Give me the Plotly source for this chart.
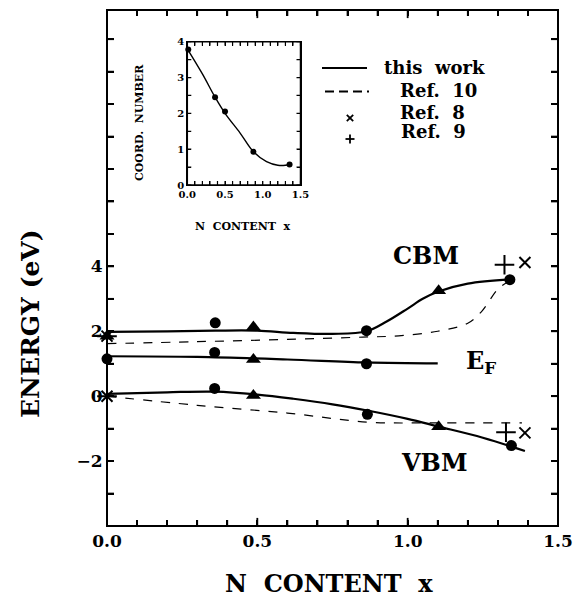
import plotly.graph_objects as go

# ---------------- data ----------------
# smooth curves, "this work"
cbm_line_x = [0.0, 0.2, 0.36, 0.5, 0.62, 0.75, 0.863, 0.93, 1.0, 1.05, 1.1, 1.2, 1.34]
cbm_line_y = [1.98, 2.0, 2.02, 2.02, 1.95, 1.92, 2.0, 2.3, 2.7, 3.0, 3.22, 3.47, 3.6]
ef_line_x = [0.0, 0.3, 0.6, 0.863, 1.1]
ef_line_y = [1.23, 1.21, 1.13, 1.04, 1.01]
vbm_line_x = [0.0, 0.2, 0.36, 0.5, 0.62, 0.75, 0.87, 1.0, 1.1, 1.25, 1.39]
vbm_line_y = [0.07, 0.12, 0.14, 0.05, -0.08, -0.25, -0.45, -0.7, -0.93, -1.28, -1.69]
# Ref. 10 (dashed)
cbm_ref10_x = [0.0, 0.3, 0.6, 0.85, 0.97, 1.1, 1.2, 1.245, 1.3, 1.33]
cbm_ref10_y = [1.62, 1.68, 1.75, 1.82, 1.86, 2.0, 2.25, 2.6, 3.3, 3.5]
vbm_ref10_x = [0.0, 0.3, 0.6, 0.87, 1.1, 1.38]
vbm_ref10_y = [0.0, -0.28, -0.52, -0.80, -0.82, -0.82]
# measured points
circ_x = [0.36, 0.863, 1.34, 0.0, 0.358, 0.863, 0.358, 0.866, 1.345]
circ_y = [2.26, 2.02, 3.59, 1.15, 1.35, 1.0, 0.24, -0.56, -1.52]
tri_x = [0.0, 0.487, 1.103, 0.487, 0.487, 1.103]
tri_y = [1.85, 2.13, 3.25, 1.13, 0.02, -0.94]
ref8_x = [0.0, 1.39, 0.0, 1.39]
ref8_y = [1.85, 4.12, 0.0, -1.13]
ref9_x = [0.0, 1.322, 0.0, 1.327]
ref9_y = [1.85, 4.05, 0.0, -1.11]
# inset: coordination number
cn_pts_x = [0.013, 0.368, 0.50, 0.876, 1.355]
cn_pts_y = [3.78, 2.45, 2.05, 0.93, 0.57]
cn_line_x = [0.0, 0.2, 0.368, 0.5, 0.7, 0.876, 1.05, 1.2, 1.3, 1.355]
cn_line_y = [3.8, 3.1, 2.45, 2.0, 1.45, 0.93, 0.65, 0.55, 0.55, 0.58]

main_x_tickvals = [round(0.1 * i, 1) for i in range(16)]
main_x_labels = {0.0: "0.0", 0.5: "0.5", 1.0: "1.0", 1.5: "1.5"}
main_y_tickvals = list(range(-3, 12))
main_y_labels = {-2: "\u22122", 0: "0", 2: "2", 4: "4"}
inset_x_tickvals = [round(0.1 * i, 1) for i in range(16)]
inset_x_labels = {0.0: "0.0", 0.5: "0.5", 1.0: "1.0", 1.5: "1.5"}
inset_y_tickvals = [0.5 * i for i in range(9)]
inset_y_labels = {0.0: "0", 1.0: "1", 2.0: "2", 3.0: "3", 4.0: "4"}

FONT = "DejaVu Serif"
BLACK = "black"

fig = go.Figure()

def curve(x, y, dash="solid", width=2.2, xa="x", ya="y"):
    fig.add_trace(go.Scatter(x=x, y=y, mode="lines", xaxis=xa, yaxis=ya,
                             line=dict(color=BLACK, width=width, dash=dash,
                                       shape="spline", smoothing=1.0),
                             showlegend=False, hoverinfo="skip", cliponaxis=False))

curve(cbm_line_x, cbm_line_y)
curve(ef_line_x, ef_line_y)
curve(vbm_line_x, vbm_line_y)
curve(cbm_ref10_x, cbm_ref10_y, dash="9px,9px", width=1.2)
curve(vbm_ref10_x, vbm_ref10_y, dash="9px,9px", width=1.2)

fig.add_trace(go.Scatter(x=circ_x, y=circ_y, mode="markers", cliponaxis=False,
                         marker=dict(symbol="circle", size=11, color=BLACK),
                         showlegend=False))
fig.add_trace(go.Scatter(x=tri_x, y=tri_y, mode="markers", cliponaxis=False,
                         marker=dict(symbol="triangle-up", size=13, color=BLACK),
                         showlegend=False))
fig.add_trace(go.Scatter(x=ref8_x, y=ref8_y, mode="markers", cliponaxis=False,
                         marker=dict(symbol="x-thin", size=11,
                                     line=dict(color=BLACK, width=2)),
                         showlegend=False))
fig.add_trace(go.Scatter(x=ref9_x, y=ref9_y, mode="markers", cliponaxis=False,
                         marker=dict(symbol="cross-thin", size=14,
                                     line=dict(color=BLACK, width=2)),
                         showlegend=False))

# inset traces
curve(cn_line_x, cn_line_y, width=1.4, xa="x2", ya="y2")
fig.add_trace(go.Scatter(x=cn_pts_x, y=cn_pts_y, mode="markers", xaxis="x2", yaxis="y2",
                         cliponaxis=False,
                         marker=dict(symbol="circle", size=6, color=BLACK),
                         showlegend=False))

W, H = 577, 605
L, R, T, B = 107, 558, 10, 526
PW, PH = R - L, B - T
IL, IR, IT, IB = 187.3, 300.5, 41.7, 185
IW, IH = IR - IL, IB - IT

def px(xp):
    return (xp - L) / PW

def py(yp):
    return (B - yp) / PH

tickfont_main = dict(family=FONT, size=17, color=BLACK, weight="bold")
tickfont_inset = dict(family=FONT, size=10, color=BLACK, weight="bold")

def lab(vals, labels):
    return [labels.get(v, "") for v in vals]

axis_common = dict(showline=True, linecolor=BLACK, mirror="allticks",
                   showgrid=False, zeroline=False, fixedrange=True,
                   ticks="inside", tickcolor=BLACK, tickmode="array")

fig.update_layout(
    template="none",
    width=W, height=H,
    margin=dict(l=L, r=W - R, t=T, b=H - B),
    paper_bgcolor="white", plot_bgcolor="white",
    showlegend=False,
    xaxis=dict(range=[0, 1.5], tickvals=main_x_tickvals,
               ticktext=lab(main_x_tickvals, main_x_labels), tickangle=0,
               ticklen=6, tickwidth=2, tickfont=tickfont_main, **axis_common),
    yaxis=dict(range=[-4, 11.9], tickvals=main_y_tickvals,
               ticktext=lab(main_y_tickvals, main_y_labels),
               ticklen=7, tickwidth=2, tickfont=tickfont_main, **axis_common),
    xaxis2=dict(domain=[px(IL), px(IR)], anchor="y2", range=[0, 1.5],
                tickvals=inset_x_tickvals,
                ticktext=lab(inset_x_tickvals, inset_x_labels), tickangle=0,
                ticklen=4, tickwidth=1.3, tickfont=tickfont_inset, **axis_common),
    yaxis2=dict(domain=[py(IB), py(IT)], anchor="x2", range=[0, 4],
                tickvals=inset_y_tickvals,
                ticktext=lab(inset_y_tickvals, inset_y_labels),
                ticklen=4, tickwidth=1.3, tickfont=tickfont_inset, **axis_common),
)

ann = []
def text(s, x, y, size, xref="paper", yref="paper", angle=0, xanchor="center"):
    ann.append(dict(text=s, x=x, y=y, xref=xref, yref=yref, showarrow=False,
                    textangle=angle, xanchor=xanchor, yanchor="middle",
                    font=dict(family=FONT, size=size, color=BLACK, weight="bold")))

# axis titles
text("ENERGY (eV)", px(30), py(324), 25, angle=-90)
text("N  CONTENT  x", px(329), py(583), 24)
text("COORD.  NUMBER", px(140), py(123), 11, angle=-90)
text("N  CONTENT  x", px(243), py(227), 11)
# curve labels
text("CBM", 1.06, 4.35, 24, xref="x", yref="y")
text("E<sub>F</sub>", 1.245, 1.05, 24, xref="x", yref="y")
text("VBM", 1.088, -2.04, 24, xref="x", yref="y")
# legend texts
text("this  work", px(434), py(68), 18)
text("Ref.  10", px(438), py(90), 18)
text("Ref.  8", px(432), py(112), 18)
text("Ref.  9", px(433), py(131), 18)
fig.update_layout(annotations=ann)

# frames (thicker box lines)
shapes = [
    dict(type="rect", xref="x domain", yref="y domain", x0=0, x1=1, y0=0, y1=1,
         line=dict(color=BLACK, width=2)),
    dict(type="rect", xref="x2 domain", yref="y2 domain", x0=0, x1=1, y0=0, y1=1,
         line=dict(color=BLACK, width=1.5)),
]

# inward tick marks on all four sides, placed at the axis tick values
def xticks(xa, ya, vals, length_px, height_px, width, major=()):
    out = []
    for v in vals:
        ln = length_px * (1.35 if v in major else 1.0) / height_px
        for y0, y1 in ((0, ln), (1, 1 - ln)):
            out.append(dict(type="line", xref=xa, yref=ya + " domain",
                            x0=v, x1=v, y0=y0, y1=y1,
                            line=dict(color=BLACK, width=width)))
    return out

def yticks(xa, ya, vals, length_px, width_px, width):
    out = []
    ln = length_px / width_px
    for v in vals:
        for x0, x1 in ((0, ln), (1, 1 - ln)):
            out.append(dict(type="line", xref=xa + " domain", yref=ya,
                            x0=x0, x1=x1, y0=v, y1=v,
                            line=dict(color=BLACK, width=width)))
    return out

shapes += xticks("x", "y", main_x_tickvals, 6, PH, 1.8, major=(0.5, 1.0))
shapes += yticks("x", "y", main_y_tickvals, 7, PW, 1.8)
shapes += xticks("x2", "y2", inset_x_tickvals, 4, IH, 1.2)
shapes += yticks("x2", "y2", inset_y_tickvals, 4, IW, 1.2)

# legend samples
shapes += [
    dict(type="line", xref="paper", yref="paper", x0=px(322), x1=px(367),
         y0=py(68), y1=py(68), line=dict(color=BLACK, width=2.2)),
    dict(type="line", xref="paper", yref="paper", x0=px(325), x1=px(369),
         y0=py(91.5), y1=py(91.5), line=dict(color=BLACK, width=1.8, dash="9px,5px")),
]
cx, cy, d = 350, 118, 3.2
shapes += [
    dict(type="line", xref="paper", yref="paper", x0=px(cx - d), x1=px(cx + d),
         y0=py(cy - d), y1=py(cy + d), line=dict(color=BLACK, width=1.8)),
    dict(type="line", xref="paper", yref="paper", x0=px(cx - d), x1=px(cx + d),
         y0=py(cy + d), y1=py(cy - d), line=dict(color=BLACK, width=1.8)),
]
cx, cy, d = 350, 139, 4.5
shapes += [
    dict(type="line", xref="paper", yref="paper", x0=px(cx - d), x1=px(cx + d),
         y0=py(cy), y1=py(cy), line=dict(color=BLACK, width=1.8)),
    dict(type="line", xref="paper", yref="paper", x0=px(cx), x1=px(cx),
         y0=py(cy - d), y1=py(cy + d), line=dict(color=BLACK, width=1.8)),
]
fig.update_layout(shapes=shapes)

fig.write_html("out.html", config={"displayModeBar": False})
